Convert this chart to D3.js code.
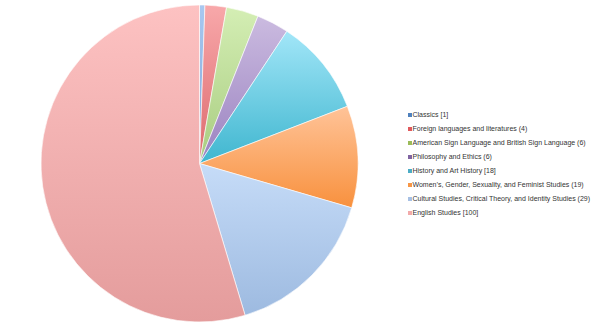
<!DOCTYPE html>
<html>
<head>
<meta charset="utf-8">
<script src="https://cdn.jsdelivr.net/npm/d3@7"></script>
<style>
  body { margin: 0; background: #fff; }
</style>
</head>
<body>
<script>
const categories = [
  "Classics [1]",
  "Foreign languages and literatures (4)",
  "American Sign Language and British Sign Language (6)",
  "Philosophy and Ethics (6)",
  "History and Art History [18]",
  "Women\u2019s, Gender, Sexuality, and Feminist Studies (19)",
  "Cultural Studies, Critical Theory, and Identity Studies  (29)",
  "English Studies [100]"
];
const values = [1, 4, 6, 6, 18, 19, 29, 100];
// light (top) and dark (bottom) shade of each slice
const lightColors = ["#a9c8f0", "#f8a8aa", "#d4eeb4", "#cbbbe0", "#a2e6f8", "#ffc398", "#c6dcf8", "#fdc2c2"];
const darkColors  = ["#7fa6d8", "#dc6a6e", "#a8cc80", "#9a82c0", "#3fb6cf", "#f8913e", "#9dbae0", "#e49c9c"];
const swatchColors = ["#4f81bd", "#e0595c", "#9bbb59", "#8064a2", "#4bacc6", "#f79646", "#a7c0e4", "#f2aaaa"];

const width = 600, height = 327;
const cx = 199.5, cy = 163.5, radius = 158.5;

const svg = d3.select("body")
  .append("svg")
  .attr("width", width)
  .attr("height", height);

const defs = svg.append("defs");
categories.forEach((c, i) => {
  const g = defs.append("linearGradient")
    .attr("id", "grad" + i)
    .attr("x1", 0).attr("y1", 0)
    .attr("x2", 0).attr("y2", 1);
  g.append("stop").attr("offset", "0%").attr("stop-color", lightColors[i]);
  g.append("stop").attr("offset", "100%").attr("stop-color", darkColors[i]);
});

const pie = d3.pie().sort(null).value(d => d);
const arc = d3.arc().innerRadius(0).outerRadius(radius);

const pieG = svg.append("g")
  .attr("transform", `translate(${cx},${cy})`);

pieG.selectAll("path")
  .data(pie(values))
  .join("path")
  .attr("d", arc)
  .attr("fill", (d, i) => `url(#grad${i})`)
  .attr("stroke", "#fff")
  .attr("stroke-width", 0.6);

// legend
const legend = svg.append("g")
  .attr("transform", "translate(408,115)");

const rowH = 14;
const rows = legend.selectAll("g")
  .data(categories)
  .join("g")
  .attr("transform", (d, i) => `translate(0,${i * rowH})`);

rows.append("rect")
  .attr("x", 0).attr("y", -2)
  .attr("width", 4).attr("height", 4)
  .attr("fill", (d, i) => swatchColors[i]);

rows.append("text")
  .attr("x", 4.5)
  .attr("y", 0)
  .attr("dy", "0.35em")
  .attr("font-family", "Liberation Sans, Arial, sans-serif")
  .attr("font-size", 7)
  .attr("fill", "#333")
  .text(d => d);
</script>
</body>
</html>
